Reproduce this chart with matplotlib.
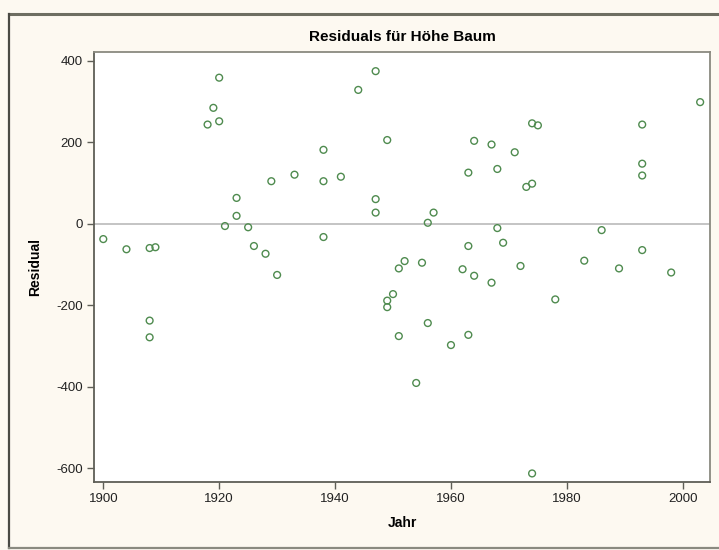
import matplotlib
matplotlib.use("Agg")
import matplotlib.pyplot as plt
from matplotlib.lines import Line2D

# Residuals of tree height by year
jahr = [1900, 1904, 1908, 1909, 1908, 1908, 1920, 1919, 1918, 1920,
        1923, 1923, 1921, 1925, 1926, 1928, 1930, 1929, 1933, 1947,
        1944, 1949, 1938, 1938, 1941, 1947, 1947, 1938, 1956, 1957,
        1964, 1967, 1963, 1968, 1968, 1969, 1963, 1952, 1951, 1955,
        1962, 1964, 1967, 1950, 1949, 1949, 1956, 1951, 1963, 1960,
        2003, 1974, 1975, 1993, 1993, 1993, 1971, 1973, 1974, 1986,
        1993, 1983, 1972, 1989, 1998, 1978, 1954, 1974]
residual = [-38, -63, -60, -58, -238, -279, 358, 284, 243, 251,
            63, 19, -6, -9, -55, -74, -126, 104, 120, 374,
            328, 205, 181, 104, 115, 60, 27, -33, 2, 27,
            203, 194, 125, 134, -11, -47, -55, -92, -110, -96,
            -112, -128, -145, -173, -189, -205, -244, -276, -273, -298,
            298, 246, 241, 243, 147, 118, 175, 90, 98, -16,
            -65, -91, -104, -110, -120, -186, -391, -613]

x_ticks = [1900, 1920, 1940, 1960, 1980, 2000]
y_ticks = [-600, -400, -200, 0, 200, 400]

bg = "#FDF9F1"
frame = "#5E5E56"
W, H = 719, 550

plt.rcParams["font.family"] = ["Liberation Sans", "DejaVu Sans"]
plt.rcParams["axes.unicode_minus"] = False

fig = plt.figure(figsize=(W / 100, H / 100), dpi=100, facecolor=bg)

# page borders
fig.add_artist(Line2D([9 / W, 1], [1 - 13.5 / H, 1 - 13.5 / H], color="#6E6E62", lw=2.2))
fig.add_artist(Line2D([9 / W, 9 / W], [1 - 548 / H, 1 - 13.5 / H], color="#4A4A44", lw=1.6))
fig.add_artist(Line2D([9 / W, 1], [1 - 548 / H, 1 - 548 / H], color="#8A8A80", lw=1.6))

ax = fig.add_axes([94 / W, 1 - 482 / H, (710 - 94) / W, (482 - 52) / H])
ax.set_facecolor("white")

ax.axhline(0, color="#B4B4B4", lw=1.1, zorder=1)
ax.scatter(jahr, residual, s=24, facecolors="none", edgecolors="#4F8B4F",
           linewidths=1.0, zorder=3)

ax.set_xlim(1898.4, 2004.7)
ax.set_ylim(-634, 421)
ax.set_xticks(x_ticks)
ax.set_yticks(y_ticks)

for s in ax.spines.values():
    s.set_color(frame)
    s.set_linewidth(1.3)
ax.spines["top"].set_color("#8A8A80")
ax.spines["right"].set_color("#8A8A80")

ax.tick_params(direction="out", length=5, width=1.0, color=frame,
               labelsize=9.5, labelcolor="#222222", pad=3)

ax.set_xlabel("Jahr", fontsize=10, fontweight="bold", labelpad=8)
ax.set_ylabel("Residual", fontsize=10, fontweight="bold", labelpad=10)

fig.text((94 + 710) / 2 / W, 1 - 37 / H, "Residuals für Höhe Baum",
         ha="center", va="center", fontsize=11, fontweight="bold")

fig.savefig("out.png", dpi=100, facecolor=bg)
